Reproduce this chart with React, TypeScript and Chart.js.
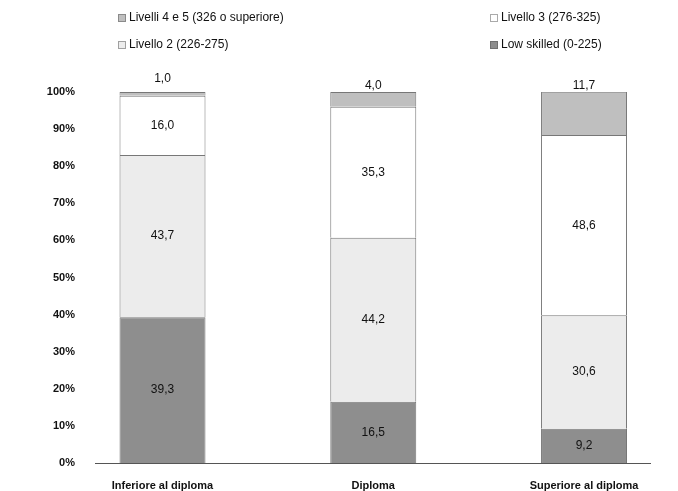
import React, { useEffect, useRef } from "react";
import { Chart, registerables } from "chart.js";

Chart.register(...registerables);

const categories = ["Inferiore al diploma", "Diploma", "Superiore al diploma"];
const seriesNames = [
  "Low skilled (0-225)",
  "Livello 2 (226-275)",
  "Livello 3 (276-325)",
  "Livelli 4 e 5 (326 o superiore)",
];
const lowSkilled = [39.3, 16.5, 9.2];
const livello2 = [43.7, 44.2, 30.6];
const livello3 = [16.0, 35.3, 48.6];
const livelli45 = [1.0, 4.0, 11.7];
const yTicks = [0, 10, 20, 30, 40, 50, 60, 70, 80, 90, 100];

const seriesValues = [lowSkilled, livello2, livello3, livelli45];
const fills = ["#8e8e8e", "#ececec", "#ffffff", "#bfbfbf"];
const FONT = "'Liberation Sans', 'DejaVu Sans', sans-serif";

const fmt = (v: number) => v.toFixed(1).replace(".", ",");

const labelsPlugin = {
  id: "segLabels",
  afterDatasetsDraw(chart: any) {
    const ctx = chart.ctx;
    ctx.save();
    ctx.font = `12px ${FONT}`;
    ctx.fillStyle = "#111";
    ctx.textAlign = "center";
    ctx.textBaseline = "middle";
    const last = chart.data.datasets.length - 1;
    chart.data.datasets.forEach((ds: any, di: number) => {
      const meta = chart.getDatasetMeta(di);
      meta.data.forEach((el: any, i: number) => {
        const v = ds.data[i].y;
        let y = (el.y + el.base) / 2;
        if (di === last) {
          const h = Math.abs(el.base - el.y);
          y = h < 10 ? el.y - 13 : el.y - 6;
        }
        ctx.fillText(fmt(v), el.x, y);
      });
    });
    ctx.restore();
  },
};

const legendPlugin = {
  id: "gridLegend",
  afterDraw(chart: any) {
    const ctx = chart.ctx;
    const order = [3, 2, 1, 0];
    const pos = [
      [118, 18],
      [490, 18],
      [118, 45],
      [490, 45],
    ];
    ctx.save();
    ctx.font = `12px ${FONT}`;
    ctx.textBaseline = "middle";
    ctx.textAlign = "left";
    order.forEach((di, k) => {
      const [x, y] = pos[k];
      ctx.fillStyle = fills[di];
      ctx.fillRect(x, y - 4, 8, 8);
      ctx.setLineDash([1, 1]);
      ctx.strokeStyle = "#555";
      ctx.lineWidth = 1;
      ctx.strokeRect(x + 0.5, y - 3.5, 7, 7);
      ctx.setLineDash([]);
      ctx.fillStyle = "#111";
      ctx.fillText(seriesNames[di], x + 11, y);
    });
    ctx.restore();
  },
};

export default function App() {
  const ref = useRef<HTMLCanvasElement | null>(null);
  useEffect(() => {
    if (!ref.current) return;
    const chart = new Chart(ref.current, {
      type: "bar",
      data: {
        datasets: seriesValues.map((vals, di) => ({
          label: seriesNames[di],
          data: vals.map((v, i) => ({ x: i, y: v })),
          backgroundColor: fills[di],
          borderColor: "#777",
          borderWidth: 1,
          categoryPercentage: 1,
          barPercentage: 0.408,
        })),
      },
      options: {
        responsive: false,
        animation: false,
        layout: { padding: { top: 92, right: 28, left: 0, bottom: 0 } },
        plugins: { legend: { display: false }, tooltip: { enabled: false } },
        scales: {
          x: {
            type: "linear",
            stacked: true,
            offset: false,
            min: -0.3203,
            max: 2.313,
            grid: { display: false },
            border: { display: true, color: "#555", dash: [2, 2], width: 1 },
            afterBuildTicks: (scale: any) => {
              scale.ticks = categories.map((_, i) => ({ value: i }));
            },
            afterFit: (scale: any) => {
              scale.height = 28;
            },
            ticks: {
              padding: 8,
              color: "#111",
              font: { family: FONT, size: 11, weight: "bold" },
              callback: (v: any) => categories[Math.round(Number(v))] ?? "",
            },
          },
          y: {
            stacked: true,
            min: 0,
            max: 100,
            grid: { display: false },
            border: { display: false },
            afterBuildTicks: (scale: any) => {
              scale.ticks = yTicks.map((v) => ({ value: v }));
            },
            afterFit: (scale: any) => {
              scale.width = 95;
            },
            ticks: {
              padding: 12,
              color: "#111",
              font: { family: FONT, size: 11, weight: "bold" },
              callback: (v: any) => `${v}%`,
            },
          },
        },
      },
      plugins: [labelsPlugin, legendPlugin],
    });
    return () => chart.destroy();
  }, []);
  return (
    <div style={{ position: "absolute", left: 0, top: 0, width: 678, height: 491, background: "#fff" }}>
      <canvas ref={ref} width={678} height={491} style={{ display: "block" }} />
    </div>
  );
}
